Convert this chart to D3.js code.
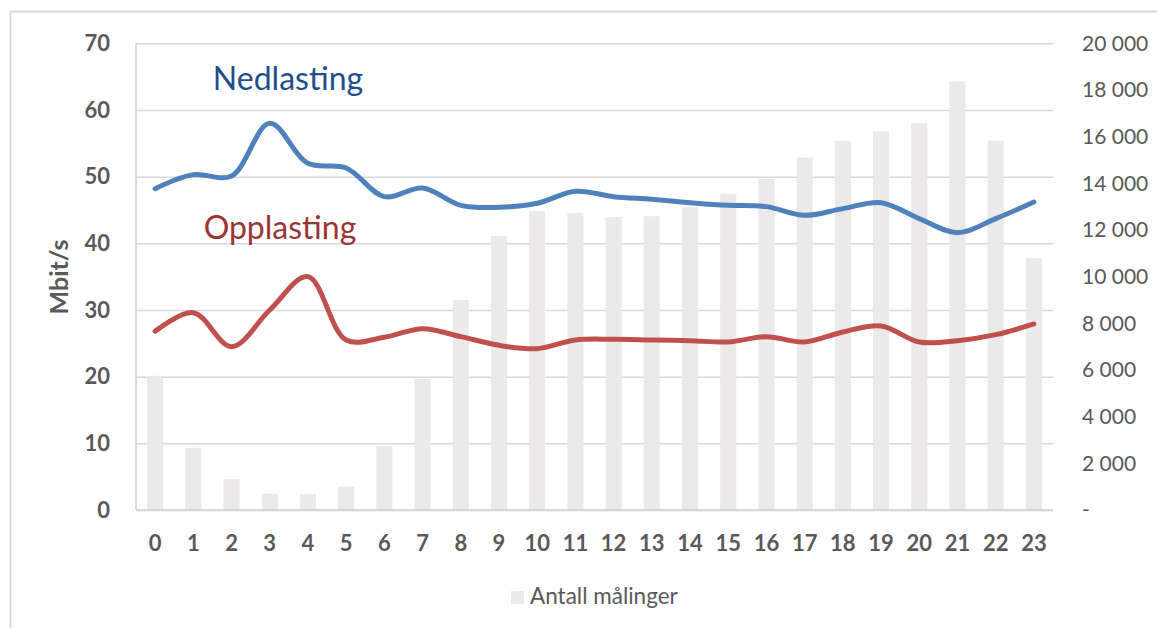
<!DOCTYPE html>
<html>
<head>
<meta charset="utf-8">
<script src="https://cdn.jsdelivr.net/npm/d3@7"></script>
<style>
  body { margin: 0; background: #fff; }
  text { font-family: Lato, 'Noto Sans', sans-serif; }
</style>
</head>
<body>
<div id="chart"></div>
<script>
var hours = ['0', '1', '2', '3', '4', '5', '6', '7', '8', '9', '10', '11',
  '12', '13', '14', '15', '16', '17', '18', '19', '20', '21', '22', '23']

// Antall målinger (right axis)
var counts = [5750, 2670, 1330, 700, 690, 1000, 2740, 5610, 9000, 11740, 12820, 12720,
  12550, 12590, 12980, 13550, 14180, 15100, 15820, 16220, 16590, 18370, 15830, 10790]

// Mbit/s (left axis)
var download = [48.2, 50.3, 50.1, 58.0, 52.0, 51.3, 47.0, 48.3, 45.7, 45.4, 46.0, 47.8,
  47.0, 46.6, 46.1, 45.7, 45.5, 44.2, 45.2, 46.1, 43.7, 41.6, 43.7, 46.2]
var upload = [26.8, 29.6, 24.5, 30.0, 35.0, 25.5, 25.9, 27.2, 26.0, 24.7, 24.2, 25.5,
  25.6, 25.5, 25.4, 25.2, 26.0, 25.2, 26.7, 27.6, 25.2, 25.4, 26.3, 27.9]

var leftTicks = [0, 10, 20, 30, 40, 50, 60, 70]
var rightTicks = [0, 2000, 4000, 6000, 8000, 10000, 12000, 14000, 16000, 18000, 20000]

var W = 1157
var H = 628
// plot area (note: "top" is a reserved window prop, so use pTop etc.)
var pLeft = 136, pRight = 1053, pTop = 43.3, pBottom = 510

var svg = d3.select('#chart').append('svg')
  .attr('width', W)
  .attr('height', H)

// chart border (only top and left show in frame)
svg.append('path')
  .attr('d', 'M10.5,' + H + 'V11.5H' + W)
  .attr('fill', 'none')
  .attr('stroke', '#d9d9d9')
  .attr('stroke-width', 1.8)

var x = d3.scaleBand().domain(hours).range([pLeft, pRight])
  .paddingInner(0.58).paddingOuter(0.29)
var yL = d3.scaleLinear().domain([0, 70]).range([pBottom, pTop])
var yR = d3.scaleLinear().domain([0, 20000]).range([pBottom, pTop])

function cx(i) { return x(hours[i]) + x.bandwidth() / 2 }

// gridlines
svg.append('g')
  .attr('transform', 'translate(' + pLeft + ',0)')
  .call(d3.axisLeft(yL).tickValues(leftTicks).tickSize(-(pRight - pLeft)).tickFormat(''))
  .call(function (g) {
    g.select('.domain').remove()
    g.selectAll('line').attr('stroke', '#d9d9d9').attr('stroke-width', 1.5)
  })

// bars
svg.append('g').selectAll('rect')
  .data(counts)
  .enter().append('rect')
  .attr('x', function (d, i) { return x(hours[i]) })
  .attr('y', function (d) { return yR(d) })
  .attr('width', x.bandwidth())
  .attr('height', function (d) { return yR(0) - yR(d) })
  .attr('fill', '#ebe9ea')

// axis lines
svg.append('line')
  .attr('x1', pLeft).attr('x2', pLeft).attr('y1', pTop).attr('y2', pBottom)
  .attr('stroke', '#d0d0d0').attr('stroke-width', 1.5)
svg.append('line')
  .attr('x1', pLeft).attr('x2', pRight).attr('y1', pBottom).attr('y2', pBottom)
  .attr('stroke', '#d0d0d0').attr('stroke-width', 1.5)

// lines
var line = d3.line()
  .x(function (d, i) { return cx(i) })
  .y(function (d) { return yL(d) })
  .curve(d3.curveCatmullRom.alpha(0.5))

svg.append('path')
  .datum(upload)
  .attr('d', line)
  .attr('fill', 'none')
  .attr('stroke', '#c0504d')
  .attr('stroke-width', 5)
  .attr('stroke-linecap', 'round')

svg.append('path')
  .datum(download)
  .attr('d', line)
  .attr('fill', 'none')
  .attr('stroke', '#4f81bd')
  .attr('stroke-width', 5)
  .attr('stroke-linecap', 'round')

// left axis
svg.append('g')
  .attr('transform', 'translate(' + pLeft + ',0)')
  .call(d3.axisLeft(yL).tickValues(leftTicks).tickSize(0).tickPadding(26))
  .call(function (g) {
    g.select('.domain').remove()
    g.selectAll('text')
      .attr('fill', '#595959')
      .style('font-size', '22px')
      .style('font-weight', 'bold')
      .style('font-family', 'Lato, sans-serif')
  })

// right axis
var fmt = function (d) { return d === 0 ? '-' : d3.format(',')(d).replace(',', ' ') }
svg.append('g')
  .attr('transform', 'translate(' + pRight + ',0)')
  .call(d3.axisRight(yR).tickValues(rightTicks).tickSize(0).tickPadding(29).tickFormat(fmt))
  .call(function (g) {
    g.select('.domain').remove()
    g.selectAll('text')
      .attr('fill', '#595959')
      .style('font-size', '21px')
      .style('font-family', 'Lato, sans-serif')
  })

// bottom axis
svg.append('g')
  .attr('transform', 'translate(0,' + pBottom + ')')
  .call(d3.axisBottom(x).tickSize(0).tickPadding(25))
  .call(function (g) {
    g.select('.domain').remove()
    g.selectAll('text')
      .attr('fill', '#595959')
      .style('font-size', '22px')
      .style('font-weight', 'bold')
      .style('font-family', 'Lato, sans-serif')
  })

// y title
svg.append('text')
  .attr('transform', 'translate(68,277) rotate(-90)')
  .attr('text-anchor', 'middle')
  .attr('fill', '#595959')
  .style('font-size', '25px')
  .style('font-weight', 'bold')
  .text('Mbit/s')

// series labels
svg.append('text')
  .attr('x', 288).attr('y', 90)
  .attr('text-anchor', 'middle')
  .attr('fill', '#1f4e8c')
  .style('font-size', '32px')
  .text('Nedlasting')

svg.append('text')
  .attr('x', 280).attr('y', 239)
  .attr('text-anchor', 'middle')
  .attr('fill', '#9b3533')
  .style('font-size', '32px')
  .text('Opplasting')

// legend
var legend = svg.append('g').attr('transform', 'translate(511,591)')
legend.append('rect')
  .attr('width', 13).attr('height', 13)
  .attr('fill', '#ebe9ea')
legend.append('text')
  .attr('x', 19).attr('y', 13)
  .attr('fill', '#595959')
  .style('font-size', '22.5px')
  .text('Antall målinger')
</script>
</body>
</html>
